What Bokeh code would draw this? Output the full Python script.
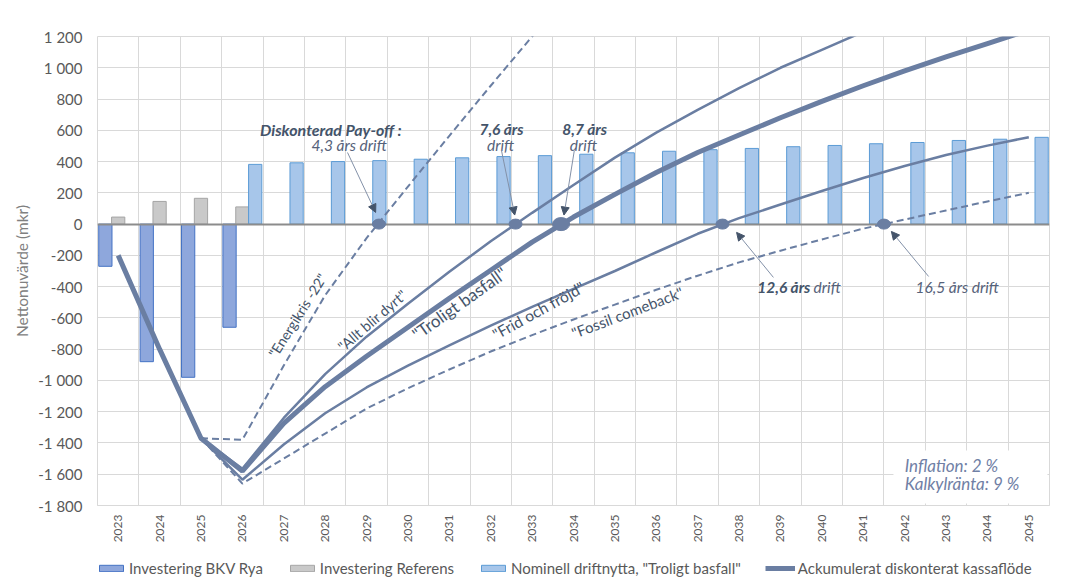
import math
from bokeh.plotting import figure
from bokeh.layouts import column
from bokeh.models import (ColumnDataSource, FixedTicker, Legend, LegendItem, Label,
                          Arrow, NormalHead, BoxAnnotation)
from bokeh.transform import dodge
from bokeh.embed import file_html
from bokeh.resources import INLINE

# ---------------- data ----------------
years = ["2023", "2024", "2025", "2026", "2027", "2028", "2029", "2030", "2031", "2032",
         "2033", "2034", "2035", "2036", "2037", "2038", "2039", "2040", "2041", "2042",
         "2043", "2044", "2045"]
y_tick_values = [-1800, -1600, -1400, -1200, -1000, -800, -600, -400, -200, 0,
                 200, 400, 600, 800, 1000, 1200]
y_tick_labels = ["-1 800", "-1 600", "-1 400", "-1 200", "-1 000", "-800", "-600", "-400",
                 "-200", "0", "200", "400", "600", "800", "1 000", "1 200"]

# bars (mkr)
bkv_rya_years = ["2023", "2024", "2025", "2026"]
bkv_rya = [-270, -880, -980, -660]
referens_years = ["2023", "2024", "2025", "2026"]
referens = [45, 145, 165, 110]
nominell_years = years[3:]
nominell = [382, 392, 400, 406, 415, 424, 432, 438, 447, 456, 466, 476, 484, 495,
            503, 514, 522, 535, 543, 555]

# accumulated discounted cash flow, "Troligt basfall" (2023-2045)
basfall = [-200, -800, -1370, -1580, -1275, -1040, -845, -660, -475, -295, -115, 45,
           190, 330, 458, 570, 680, 785, 885, 980, 1070, 1155, 1240]
# scenarios (start 2025)
energikris_years = years[2:12]
energikris = [-1370, -1380, -905, -455, -90, 240, 565, 885, 1200, 1510]
allt_dyrt_years = years[2:19]
allt_dyrt = [-1370, -1565, -1240, -960, -720, -510, -305, -110, 72, 250, 425, 585,
             731, 870, 1000, 1115, 1230]
frid_years = years[2:]
frid = [-1370, -1635, -1410, -1210, -1045, -905, -775, -650, -530, -415, -300, -180,
        -62, 38, 125, 212, 295, 372, 442, 502, 556]
fossil_years = years[2:]
fossil = [-1370, -1660, -1500, -1340, -1180, -1050, -930, -815, -710, -610, -515, -420,
          -330, -245, -170, -98, -29, 29, 87, 145, 200]

payoff_years = [4.3, 7.6, 8.7, 12.6, 16.5]   # års drift
drift_start = 2025
inflation = 2
kalkylranta = 9

legend_labels = ["Investering BKV Rya", "Investering Referens",
                 'Nominell driftnytta, "Troligt basfall"',
                 "Ackumulerat diskonterat kassaflöde"]

# ---------------- styling ----------------
FONT = "Lato"
LINE = "#6A7EA2"
DARK = "#44546A"
SOFT = "#56627A"
GRID = "#D9D9D9"
BKV_FILL, BKV_LINE = "#8EA7DC", "#4472C4"
REF_FILL, REF_LINE = "#C9C9C9", "#A5A5A5"
NOM_FILL, NOM_LINE = "#A7C6EA", "#5B9BD5"

num = lambda ys: [int(y) for y in ys]
year_nums = num(years)

src_bkv = ColumnDataSource(dict(x=num(bkv_rya_years), v=bkv_rya))
src_ref = ColumnDataSource(dict(x=num(referens_years), v=referens))
src_nom = ColumnDataSource(dict(x=num(nominell_years), v=nominell))
src_bas = ColumnDataSource(dict(x=year_nums, v=basfall))
BW = 0.32

W = 1068
p = figure(width=W, height=549, output_backend="svg", toolbar_location=None,
           x_range=(2022.5, 2045.5), y_range=(-1800, 1200),
           min_border_left=97, min_border_right=19, min_border_top=36,
           min_border_bottom=44)
p.outline_line_color = GRID
p.background_fill_color = "white"
p.border_fill_color = "white"

# axes
p.yaxis.ticker = FixedTicker(ticks=y_tick_values)
p.yaxis.major_label_overrides = dict(zip(y_tick_values, y_tick_labels))
p.yaxis.axis_label = "Nettonuvärde (mkr)"
p.yaxis.axis_label_text_font = FONT
p.yaxis.axis_label_text_font_style = "normal"
p.yaxis.axis_label_text_font_size = "15.5px"
p.yaxis.axis_label_text_color = "#808080"
p.yaxis.axis_label_standoff = 4
p.yaxis.major_label_text_font = FONT
p.yaxis.major_label_text_font_size = "15px"
p.yaxis.major_label_text_color = "#595959"
p.yaxis.major_label_standoff = 15
p.yaxis.major_tick_out = 0
p.yaxis.major_tick_in = 0
p.yaxis.minor_tick_out = 0
p.yaxis.minor_tick_in = 0
p.yaxis.axis_line_color = None

p.xaxis.ticker = FixedTicker(ticks=year_nums)
p.xaxis.major_label_overrides = dict(zip(year_nums, years))
p.xaxis.major_label_orientation = math.pi / 2
p.xaxis.major_label_text_font = FONT
p.xaxis.major_label_text_font_size = "12px"
p.xaxis.major_label_text_color = "#595959"
p.xaxis.major_label_standoff = 9
p.xaxis.major_tick_out = 0
p.xaxis.major_tick_in = 0
p.xaxis.minor_tick_out = 0
p.xaxis.minor_tick_in = 0
p.xaxis.axis_line_color = GRID

p.ygrid.ticker = FixedTicker(ticks=y_tick_values)
p.ygrid.grid_line_color = GRID
p.xgrid.ticker = FixedTicker(ticks=[year_nums[0] - 0.5 + i for i in range(len(years) + 1)])
p.xgrid.grid_line_color = GRID

# bars
def bars(fig, src, off, fill, line):
    return fig.vbar(x=dodge("x", off, range=fig.x_range), top="v", bottom=0, width=BW,
                    source=src, fill_color=fill, line_color=line, line_width=1)

bars(p, src_bkv, -0.31, BKV_FILL, BKV_LINE)
bars(p, src_ref, 0.0, REF_FILL, REF_LINE)
bars(p, src_nom, 0.31, NOM_FILL, NOM_LINE)

# zero axis line
p.hspan(y=[0], line_color="#8C8C8C", line_width=2)

# scenario lines
p.line(num(energikris_years), energikris, line_color=LINE, line_width=2, line_dash="7 4")
p.line(num(fossil_years), fossil, line_color=LINE, line_width=2, line_dash="7 4")
p.line(num(allt_dyrt_years), allt_dyrt, line_color=LINE, line_width=2.5)
p.line(num(frid_years), frid, line_color=LINE, line_width=2.5)
p.line("x", "v", source=src_bas, line_color=LINE, line_width=5)

# pay-off points
p.ellipse(x=[drift_start + t for t in payoff_years], y=[0] * len(payoff_years),
          width=[13, 13, 17, 13, 13], height=[10, 10, 13, 10, 10],
          width_units="screen", height_units="screen",
          fill_color=LINE, line_color=LINE)

# ---------------- annotations ----------------
def lab(x, y, text, size="15.5px", style="italic", color=DARK, align="center", angle=0.0):
    p.add_layout(Label(x=x, y=y, text=text, text_font=FONT, text_font_size=size,
                       text_font_style=style, text_color=color, text_align=align,
                       text_baseline="middle", angle=angle))

def fmt(t):
    return ("%.1f" % t).replace(".", ",")

lab(2028.14, 606, "Diskonterad Pay-off :", size="16px", style="bold italic")
lab(2028.58, 503.5, fmt(payoff_years[0]) + " års drift", color=SOFT)
lab(2032.26, 606, fmt(payoff_years[1]) + " års", style="bold italic")
lab(2032.24, 503.5, "drift", color=SOFT)
lab(2034.27, 606, fmt(payoff_years[2]) + " års", style="bold italic")
lab(2034.24, 503.5, "drift", color=SOFT)
lab(2038.44, -403, fmt(payoff_years[3]) + " års", style="bold italic", align="left")
lab(2039.80, -403, "drift", color=SOFT, align="left")
lab(2043.27, -403, fmt(payoff_years[4]) + " års drift", color=SOFT)

def arrow(x0, y0, x1, y1):
    p.add_layout(Arrow(x_start=x0, y_start=y0, x_end=x1, y_end=y1,
                       line_color="#8391A8", line_width=1,
                       end=NormalHead(size=8, fill_color=DARK, line_color=DARK)))

arrow(2028.54, 458, 2029.22, 75)
arrow(2032.26, 471, 2032.58, 58)
arrow(2034.02, 471, 2033.77, 58)
arrow(2038.83, -341, 2037.94, -53)
arrow(2042.58, -335, 2041.68, -47)

# scenario names along the curves
lab(2027.33, -584, '"Energikris -22"', size="14px", style="normal", angle=math.radians(57.8))
lab(2029.14, -616, '"Allt blir dyrt"', size="14.5px", style="normal", angle=math.radians(40.6))
lab(2031.24, -507, '"Troligt basfall"', size="17px", style="normal", angle=math.radians(35.4))
lab(2033.15, -552, '"Frid och fröjd"', size="15.5px", style="normal", angle=math.radians(28.9))
lab(2035.30, -565, '"Fossil comeback"', size="15px", style="normal", angle=math.radians(20.8))

# inflation box
p.add_layout(BoxAnnotation(left=2041.73, right=2045.45, bottom=-1787, top=-1448,
                           fill_color="white", fill_alpha=1.0, line_color=None))
lab(2042.0, -1544, "Inflation:  %d %%" % inflation, size="17px", color="#7080A5", align="left")
lab(2042.0, -1659, "Kalkylränta: %d %%" % kalkylranta, size="17px", color="#7080A5", align="left")

# ---------------- legend strip below the chart ----------------
# the same series as hidden renderers in a thin strip; only their legend keys are drawn
lg = figure(width=W, height=31, output_backend="svg", toolbar_location=None,
            x_range=(2022.5, 2045.5), y_range=(5000, 5001), min_border=0)
lg.axis.visible = False
lg.grid.visible = False
lg.outline_line_color = None
lg.border_fill_color = "white"
lg.background_fill_color = "white"
k_bkv = bars(lg, src_bkv, -0.31, BKV_FILL, BKV_LINE)
k_ref = bars(lg, src_ref, 0.0, REF_FILL, REF_LINE)
k_nom = bars(lg, src_nom, 0.31, NOM_FILL, NOM_LINE)
k_bas = lg.line("x", "v", source=src_bas, line_color=LINE, line_width=5)
for r in (k_bkv, k_ref, k_nom, k_bas):
    r.visible = False
legend = Legend(items=[LegendItem(label=t, renderers=[r]) for t, r in
                       zip(legend_labels, [k_bkv, k_ref, k_nom, k_bas])],
                orientation="horizontal", location=(-1, 3))
legend.glyph_width = 30
legend.glyph_height = 8
legend.label_height = 16
legend.label_standoff = 3
legend.spacing = 24
legend.padding = 2
legend.margin = 0
legend.border_line_color = None
legend.background_fill_alpha = 0
legend.inactive_fill_alpha = 0
legend.label_text_font = FONT
legend.label_text_font_size = "15px"
legend.label_text_color = "#595959"
lg.add_layout(legend, "center")

layout = column(p, lg, spacing=0)
open("out.html", "w").write(file_html(layout, INLINE))
